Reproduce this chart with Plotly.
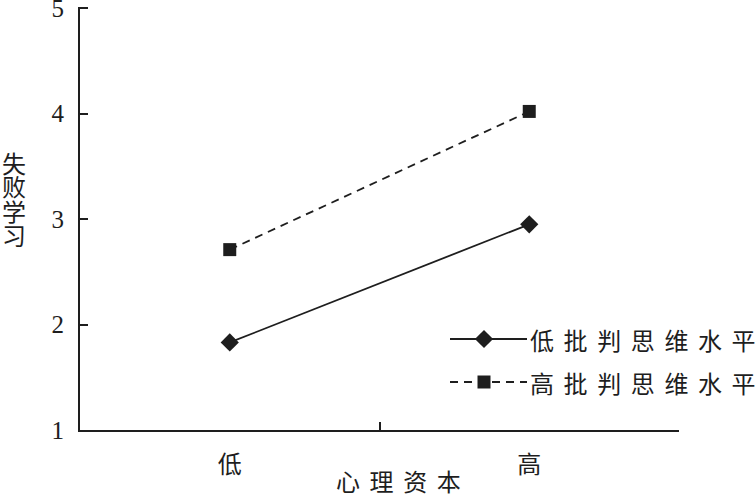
import plotly.graph_objects as go

categories = ["低", "高"]
series_names = ["低批判思维水平", "高批判思维水平"]
low_ct = [1.83, 2.95]
high_ct = [2.71, 4.02]
y_ticks = [1, 2, 3, 4, 5]
x_title = "心理资本"
y_title = "失败学习"

INK = "#1e1e1e"
CJK = "Noto Sans CJK SC"
SERIF = "Liberation Serif"

# plot area in pixels (top slightly above the "5" tick so it is not dropped at the range end)
PL, PR, PT, PB = 80, 679, 7, 430
Y_MIN, Y_MAX = 1, 5.01


def px(x):
    return (x - PL) / (PR - PL)


def py(y):
    return (PB - y) / (PB - PT)


fig = go.Figure()
fig.add_trace(go.Scatter(x=categories, y=low_ct, mode="lines+markers", name=series_names[0],
                         line=dict(color=INK, width=1.8),
                         marker=dict(symbol="diamond", size=14, color=INK), showlegend=False))
fig.add_trace(go.Scatter(x=categories, y=high_ct, mode="lines+markers", name=series_names[1],
                         line=dict(color=INK, width=1.8, dash="8px,6px"),
                         marker=dict(symbol="square", size=13, color=INK), showlegend=False))

# custom legend on an overlay pixel-coordinate axis
leg_x0, leg_x1, leg_mx = 450, 527, 484
leg_rows = [339, 382]
fig.add_trace(go.Scatter(x=[leg_x0, leg_mx, leg_x1], y=[leg_rows[0]] * 3, xaxis="x2", yaxis="y2",
                         mode="lines", line=dict(color=INK, width=1.8), showlegend=False, hoverinfo="skip"))
fig.add_trace(go.Scatter(x=[leg_mx], y=[leg_rows[0]], xaxis="x2", yaxis="y2", mode="markers",
                         marker=dict(symbol="diamond", size=14, color=INK), showlegend=False, hoverinfo="skip"))
fig.add_trace(go.Scatter(x=[leg_x0, leg_mx, leg_x1], y=[leg_rows[1]] * 3, xaxis="x2", yaxis="y2",
                         mode="lines", line=dict(color=INK, width=1.8, dash="8px,6px"), showlegend=False, hoverinfo="skip"))
fig.add_trace(go.Scatter(x=[leg_mx], y=[leg_rows[1]], xaxis="x2", yaxis="y2", mode="markers",
                         marker=dict(symbol="square", size=13, color=INK), showlegend=False, hoverinfo="skip"))

annotations = []
for name, yy in zip(series_names, leg_rows):
    annotations.append(dict(x=px(528), y=py(yy), xref="paper", yref="paper", xanchor="left", yanchor="middle",
                            text="\u2009\u2009".join(name), showarrow=False,
                            font=dict(family=CJK, size=24, color=INK)))
annotations.append(dict(x=px(398), y=py(480), xref="paper", yref="paper", xanchor="center", yanchor="middle",
                        text="\u2009\u2009".join(x_title), showarrow=False,
                        font=dict(family=CJK, size=24, color=INK)))
for i, ch in enumerate(y_title):
    annotations.append(dict(x=px(14), y=py(162 + 24 * i), xref="paper", yref="paper", xanchor="center",
                            yanchor="middle", text=ch, showarrow=False,
                            font=dict(family=CJK, size=24, color=INK)))

fig.update_layout(
    width=756, height=496,
    margin=dict(l=PL, r=756 - PR, t=PT, b=496 - PB, autoexpand=False),
    paper_bgcolor="white", plot_bgcolor="white",
    xaxis=dict(type="category", categoryorder="array", categoryarray=categories,
               range=[-0.5, 1.5], tickson="boundaries", ticks="inside", ticklen=8, tickwidth=1.8,
               tickcolor=INK, showline=True, linecolor=INK, linewidth=1.8, showgrid=False,
               zeroline=False, ticklabelstandoff=12, automargin=False,
               tickfont=dict(family=CJK, size=24, color=INK)),
    yaxis=dict(range=[Y_MIN, Y_MAX], tickvals=y_ticks, ticks="inside", ticklen=8, tickwidth=1.8,
               tickcolor=INK, showline=True, linecolor=INK, linewidth=1.8, showgrid=False,
               zeroline=False, ticklabelstandoff=9, ticklabeloverflow="allow", automargin=False,
               tickfont=dict(family=SERIF, size=25, color=INK)),
    xaxis2=dict(overlaying="x", range=[PL, PR], visible=False, showgrid=False, zeroline=False),
    yaxis2=dict(overlaying="y", range=[PB, PT], visible=False, showgrid=False, zeroline=False),
    annotations=annotations,
)

fig.write_html("out.html", config={"displayModeBar": False},
               post_script="document.body.style.margin='0';")
